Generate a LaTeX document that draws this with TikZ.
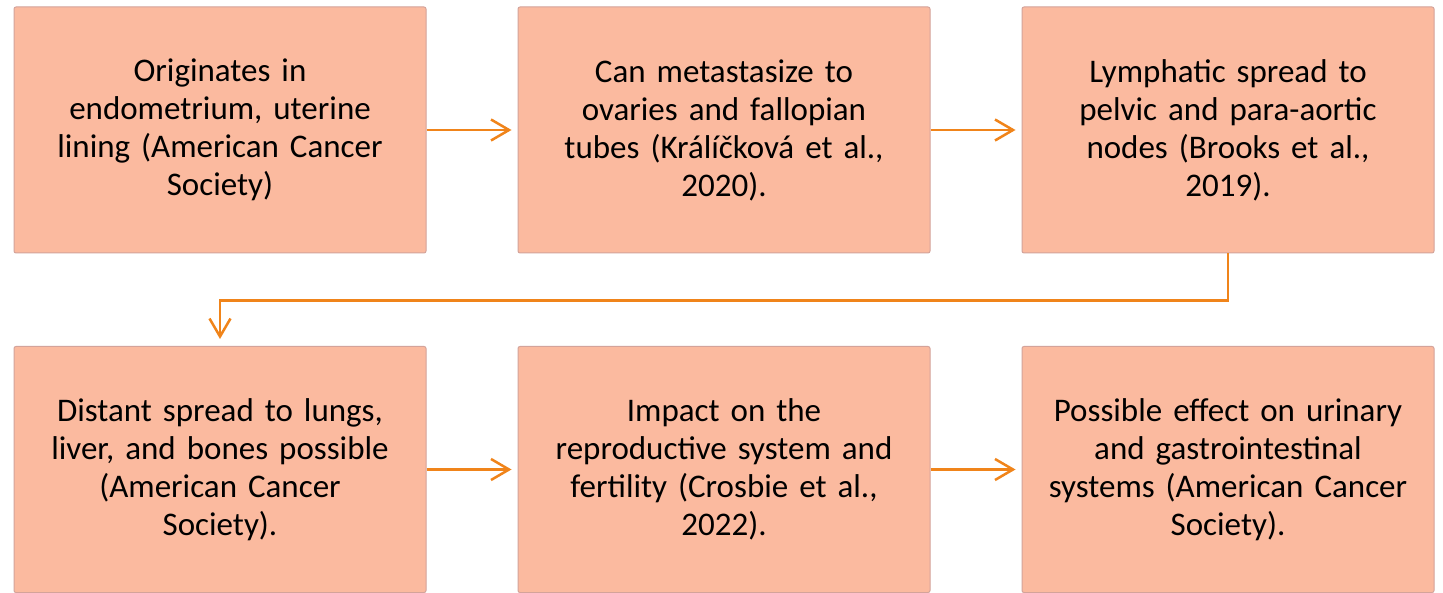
\documentclass[tikz,border=0pt]{standalone}
\usepackage{fontspec}
\setmainfont{Carlito}
\usetikzlibrary{arrows.meta}
\definecolor{peach}{HTML}{FBBA9F}
\definecolor{peachedge}{HTML}{D4A39A}
\definecolor{arrorange}{HTML}{F0841A}
\begin{document}
\begin{tikzpicture}[x=1pt,y=-1pt,
  stepbox/.style={draw=peachedge, line width=1pt, fill=peach, rounded corners=2pt,
    minimum width=412pt, minimum height=246pt, inner sep=0pt,
    align=center, text width=400pt,
    font=\fontsize{33}{38}\selectfont},
  flow/.style={draw=arrorange, line width=2.5pt,
    -{Straight Barb[length=18pt,width=21pt,line width=2.5pt]}}]
\fill[white] (0,0) rectangle (1443,593);
\useasboundingbox (0,0) rectangle (1443,593);
\node[stepbox] (b1) at (220,130) {Originates in\\endometrium, uterine\\lining (American Cancer\\Society)};
\node[stepbox] (b2) at (724,130) {Can metastasize to\\ovaries and fallopian\\tubes (Králíčková et al.,\\2020).};
\node[stepbox] (b3) at (1228,130) {Lymphatic spread to\\pelvic and para-aortic\\nodes (Brooks et al.,\\2019).};
\node[stepbox] (b4) at (220,469.5) {Distant spread to lungs,\\liver, and bones possible\\(American Cancer\\Society).};
\node[stepbox] (b5) at (724,469.5) {Impact on the\\reproductive system and\\fertility (Crosbie et al.,\\2022).};
\node[stepbox] (b6) at (1228,469.5) {Possible effect on urinary\\and gastrointestinal\\systems (American Cancer\\Society).};
\draw[flow, shorten >=6pt] (b1.east) -- (b2.west);
\draw[flow, shorten >=6pt] (b2.east) -- (b3.west);
\draw[flow, shorten >=6pt] (b4.east) -- (b5.west);
\draw[flow, shorten >=6pt] (b5.east) -- (b6.west);
\draw[flow, shorten >=7pt] (b3.south) -- ++(0,47) -| (b4.north);
\end{tikzpicture}
\end{document}
